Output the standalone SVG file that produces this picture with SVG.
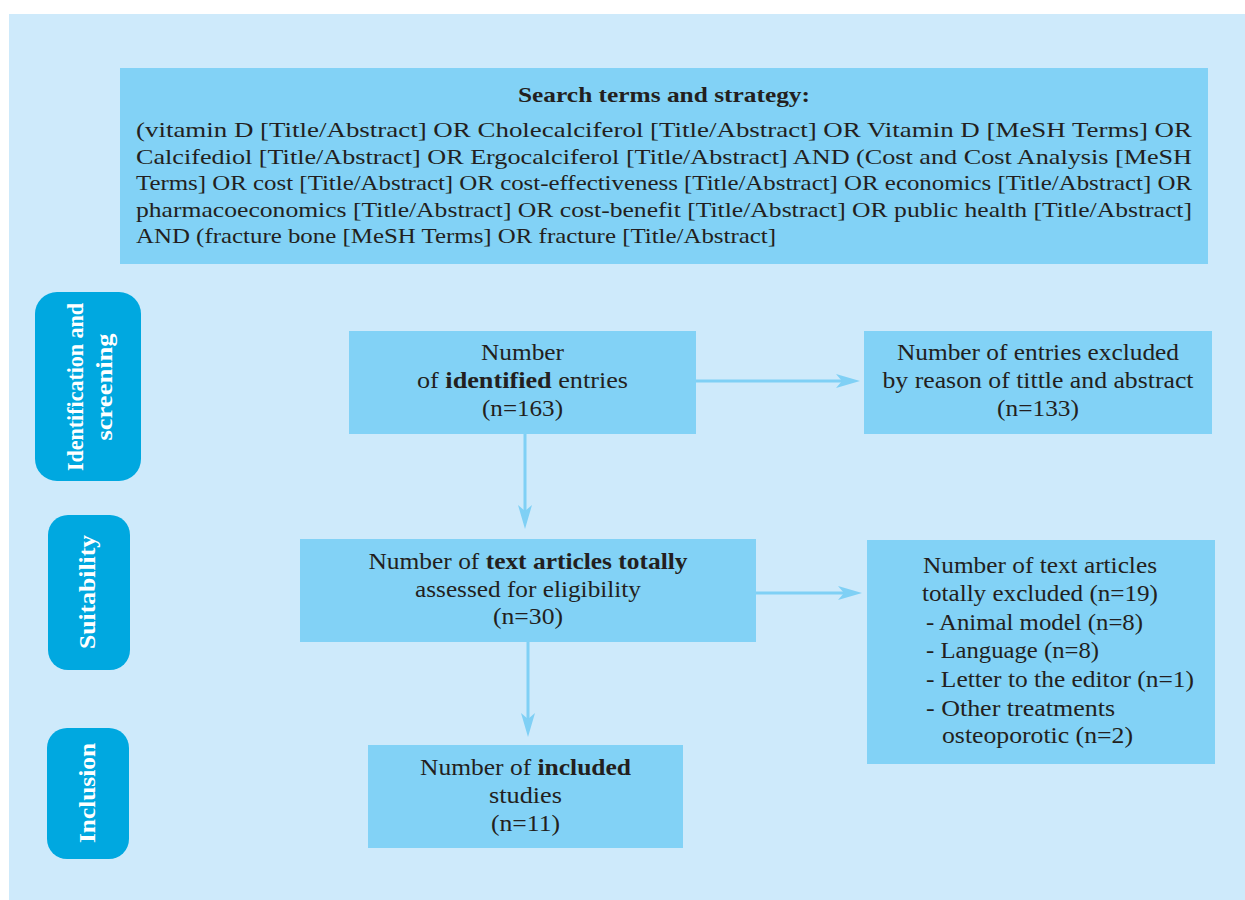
<svg xmlns="http://www.w3.org/2000/svg" width="1245" height="900" viewBox="0 0 1245 900">
<defs>
<style>
.bg{fill:#CEEAFB}
.box{fill:#82D2F6}
.side{fill:#00A8E0}
.t{font-family:"Liberation Serif","Times New Roman",serif;font-size:22.5px;fill:#231F20}
.s{font-family:"Liberation Serif","Times New Roman",serif;font-size:21px;fill:#231F20}
.st{font-family:"Liberation Serif","Times New Roman",serif;font-size:21px;font-weight:bold;fill:#231F20}
.lab{font-family:"Liberation Serif","Times New Roman",serif;font-size:23px;font-weight:bold;fill:#FFFFFF}
.c{text-anchor:middle}
.conn{stroke:#7FD0F5;stroke-width:3;fill:none}
</style>
<marker id="ah" viewBox="0 0 24 14" refX="12" refY="7" markerWidth="24" markerHeight="14" markerUnits="userSpaceOnUse" orient="auto">
<path d="M0,0 L24,7 L0,14 L6,7 Z" fill="#7FD0F5"/>
</marker>
</defs>
<rect class="bg" x="9" y="14" width="1236" height="886"/>

<g id="search">
<rect class="box" x="120" y="68" width="1088" height="196"/>
<text class="st c" x="664" y="102" textLength="292" lengthAdjust="spacingAndGlyphs">Search terms and strategy:</text>
<text class="s" x="136" y="137" textLength="1056" lengthAdjust="spacingAndGlyphs">(vitamin D [Title/Abstract] OR Cholecalciferol [Title/Abstract] OR Vitamin D [MeSH Terms] OR</text>
<text class="s" x="136" y="163.5" textLength="1056" lengthAdjust="spacingAndGlyphs">Calcifediol [Title/Abstract] OR Ergocalciferol [Title/Abstract] AND (Cost and Cost Analysis [MeSH</text>
<text class="s" x="136" y="190" textLength="1056" lengthAdjust="spacingAndGlyphs">Terms] OR cost [Title/Abstract] OR cost-effectiveness [Title/Abstract] OR economics [Title/Abstract] OR</text>
<text class="s" x="136" y="216.5" textLength="1056" lengthAdjust="spacingAndGlyphs">pharmacoeconomics [Title/Abstract] OR cost-benefit [Title/Abstract] OR public health [Title/Abstract]</text>
<text class="s" x="136" y="243" textLength="640" lengthAdjust="spacingAndGlyphs">AND (fracture bone [MeSH Terms] OR fracture [Title/Abstract]</text>
</g>

<g id="stage-identification">
<rect class="side" x="35" y="292" width="106" height="189" rx="22"/>
<text class="lab c" transform="translate(83,387) rotate(-90)" textLength="168" lengthAdjust="spacingAndGlyphs">Identification and</text>
<text class="lab c" transform="translate(112,387) rotate(-90)" textLength="107" lengthAdjust="spacingAndGlyphs">screening</text>
</g>
<g id="stage-suitability">
<rect class="side" x="48" y="515" width="82" height="155" rx="20"/>
<text class="lab c" transform="translate(95,592) rotate(-90)" textLength="114" lengthAdjust="spacingAndGlyphs">Suitability</text>
</g>
<g id="stage-inclusion">
<rect class="side" x="47" y="728" width="82" height="131" rx="20"/>
<text class="lab c" transform="translate(95,793) rotate(-90)" textLength="100" lengthAdjust="spacingAndGlyphs">Inclusion</text>
</g>

<g id="identified">
<rect class="box" x="349" y="331" width="347" height="103"/>
<text class="t c" x="522.5" y="360" textLength="83" lengthAdjust="spacingAndGlyphs">Number</text>
<text class="t c" x="522.5" y="388" textLength="211" lengthAdjust="spacingAndGlyphs">of <tspan font-weight="bold">identified</tspan> entries</text>
<text class="t c" x="522.5" y="416" textLength="81" lengthAdjust="spacingAndGlyphs">(n=163)</text>
</g>

<g id="excluded-title">
<rect class="box" x="864" y="331" width="348" height="103"/>
<text class="t c" x="1038" y="360" textLength="282" lengthAdjust="spacingAndGlyphs">Number of entries excluded</text>
<text class="t c" x="1038" y="388" textLength="311" lengthAdjust="spacingAndGlyphs">by reason of tittle and abstract</text>
<text class="t c" x="1038" y="416" textLength="82" lengthAdjust="spacingAndGlyphs">(n=133)</text>
</g>

<g id="assessed">
<rect class="box" x="300" y="539" width="456" height="103"/>
<text class="t c" x="528" y="569" textLength="319" lengthAdjust="spacingAndGlyphs">Number of <tspan font-weight="bold">text articles totally</tspan></text>
<text class="t c" x="528" y="597" textLength="226" lengthAdjust="spacingAndGlyphs">assessed for eligibility</text>
<text class="t c" x="528" y="624" textLength="70" lengthAdjust="spacingAndGlyphs">(n=30)</text>
</g>

<g id="excluded-text">
<rect class="box" x="867" y="540" width="348" height="224"/>
<text class="t c" x="1040" y="573" textLength="234" lengthAdjust="spacingAndGlyphs">Number of text articles</text>
<text class="t c" x="1040" y="601" textLength="236" lengthAdjust="spacingAndGlyphs">totally excluded (n=19)</text>
<text class="t" x="926" y="630" textLength="217" lengthAdjust="spacingAndGlyphs">- Animal model (n=8)</text>
<text class="t" x="926" y="658" textLength="173" lengthAdjust="spacingAndGlyphs">- Language (n=8)</text>
<text class="t" x="926" y="687" textLength="268" lengthAdjust="spacingAndGlyphs">- Letter to the editor (n=1)</text>
<text class="t" x="926" y="715.5" textLength="189" lengthAdjust="spacingAndGlyphs">- Other treatments</text>
<text class="t" x="942" y="743" textLength="191" lengthAdjust="spacingAndGlyphs">osteoporotic (n=2)</text>
</g>

<g id="included">
<rect class="box" x="368" y="745" width="315" height="103"/>
<text class="t c" x="525.5" y="775" textLength="211" lengthAdjust="spacingAndGlyphs">Number of <tspan font-weight="bold">included</tspan></text>
<text class="t c" x="525.5" y="803" textLength="73" lengthAdjust="spacingAndGlyphs">studies</text>
<text class="t c" x="525.5" y="831" textLength="69" lengthAdjust="spacingAndGlyphs">(n=11)</text>
</g>

<g id="connectors">
<line class="conn" x1="696" y1="381" x2="848" y2="381" marker-end="url(#ah)"/>
<line class="conn" x1="525" y1="434" x2="525" y2="517" marker-end="url(#ah)"/>
<line class="conn" x1="756" y1="593" x2="850" y2="593" marker-end="url(#ah)"/>
<line class="conn" x1="528" y1="642" x2="528" y2="725" marker-end="url(#ah)"/>
</g>
</svg>
